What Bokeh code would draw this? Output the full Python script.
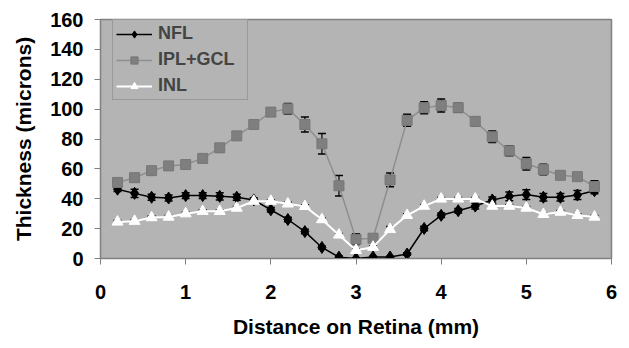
from bokeh.plotting import figure
from bokeh.models import ColumnDataSource, Whisker, TeeHead, Range1d, FixedTicker, Legend
from bokeh.embed import file_html
from bokeh.resources import INLINE

x = [0.2, 0.4, 0.6, 0.8, 1.0, 1.2, 1.4, 1.6, 1.8, 2.0, 2.2, 2.4, 2.6, 2.8, 3.0,
     3.2, 3.4, 3.6, 3.8, 4.0, 4.2, 4.4, 4.6, 4.8, 5.0, 5.2, 5.4, 5.6, 5.8]

nfl = [46.4, 43.6, 41.0, 40.5, 42.1, 42.1, 41.6, 41.0, 39.2, 32.6, 26.1, 18.0, 7.4, 0.9, 0.0,
       1.0, 1.0, 3.0, 20.1, 28.9, 32.0, 35.1, 39.2, 41.6, 42.8, 41.0, 41.0, 42.5, 45.4]
nfl_err = [1.6, 2.7, 2.0, 2.0, 2.0, 2.0, 2.5, 2.0, 1.5, 1.5, 1.5, 1.5, 1.0, 0.8, 0.5,
           0.5, 0.5, 0.8, 1.5, 1.5, 1.5, 2.0, 2.0, 3.0, 3.3, 2.5, 2.5, 3.0, 2.0]

ipl = [50.9, 54.1, 58.8, 62.0, 62.9, 67.0, 74.1, 82.1, 89.7, 98.0, 100.2, 89.7, 76.8, 48.7, 12.9,
       13.6, 52.6, 92.5, 100.9, 102.4, 100.9, 91.8, 81.5, 72.1, 63.4, 59.6, 55.7, 54.8, 48.2]
ipl_err = [2.0, 2.0, 2.5, 2.0, 2.0, 2.5, 2.5, 2.5, 2.0, 2.0, 3.5, 5.0, 6.8, 6.8, 3.6,
           2.5, 4.6, 4.0, 4.0, 4.4, 3.0, 3.0, 3.8, 3.3, 4.2, 3.5, 2.0, 2.0, 3.8]

inl = [24.5, 25.0, 27.4, 27.8, 30.0, 31.6, 31.6, 33.8, 38.4, 38.4, 36.6, 34.9, 26.1, 15.8, 5.5,
       7.6, 19.5, 28.9, 35.1, 39.9, 39.9, 39.9, 35.1, 35.1, 33.8, 29.6, 31.1, 28.9, 27.8]
inl_err = [1.0, 1.0, 1.0, 1.0, 1.0, 1.0, 1.0, 1.0, 1.0, 1.0, 1.0, 1.0, 1.0, 1.0, 1.0,
           1.0, 2.0, 1.0, 1.0, 1.0, 1.0, 1.0, 1.0, 1.0, 1.0, 1.0, 1.0, 1.0, 1.0]

x_ticks = [0, 1, 2, 3, 4, 5, 6]
y_ticks = [0, 20, 40, 60, 80, 100, 120, 140, 160]

FONT = "Liberation Sans"
BG = "#b4b4b4"
FRAME = "#808080"

p = figure(width=621, height=340, output_backend="svg", toolbar_location=None,
           x_range=Range1d(0, 6), y_range=Range1d(0, 160),
           min_border_left=100, min_border_right=10, min_border_top=19, min_border_bottom=78)

p.background_fill_color = BG
p.border_fill_color = "white"
p.outline_line_color = FRAME
p.outline_line_width = 1.5
p.grid.visible = False

for ax in (p.xaxis[0], p.yaxis[0]):
    ax.axis_line_color = FRAME
    ax.major_tick_line_color = FRAME
    ax.minor_tick_line_color = None
    ax.major_tick_in = 0
    ax.major_tick_out = 6
    ax.major_label_text_font = FONT
    ax.major_label_text_font_style = "bold"
    ax.major_label_text_font_size = "20px"
    ax.major_label_text_color = "black"
    ax.axis_label_text_font = FONT
    ax.axis_label_text_font_style = "bold"
    ax.axis_label_text_font_size = "21px"
    ax.axis_label_text_color = "black"

p.xaxis.ticker = FixedTicker(ticks=x_ticks)
p.yaxis.ticker = FixedTicker(ticks=y_ticks)
p.xaxis.axis_label = "Distance on Retina (mm)"
p.yaxis.axis_label = "Thickness (microns)"
p.xaxis.major_label_standoff = 20
p.yaxis.major_label_standoff = 11
p.xaxis.axis_label_standoff = 13
p.yaxis.axis_label_standoff = 12

def add_series(vals, errs, line_color, line_width, marker, fill, mline, msize):
    lo = [v - e for v, e in zip(vals, errs)]
    hi = [v + e for v, e in zip(vals, errs)]
    src = ColumnDataSource(dict(x=x, y=vals, lo=lo, hi=hi))
    r1 = p.line("x", "y", source=src, line_color=line_color, line_width=line_width)
    w = Whisker(base="x", lower="lo", upper="hi", source=src, line_color="black", line_width=1.2,
                upper_head=TeeHead(size=8, line_color="black", line_width=1.5),
                lower_head=TeeHead(size=8, line_color="black", line_width=1.5))
    p.add_layout(w)
    r2 = p.scatter("x", "y", source=src, marker=marker, size=msize, fill_color=fill,
                   line_color=mline, line_width=1)
    return [r1, r2]

r_nfl = add_series(nfl, nfl_err, "black", 1.5, "diamond", "black", "black", 12)
r_ipl = add_series(ipl, ipl_err, "#8e8e8e", 1.5, "square", "#7f7f7f", "#777777", 10)
r_inl = add_series(inl, inl_err, "white", 2, "triangle", "white", "white", 11)

legend = Legend(items=[("NFL", r_nfl), ("IPL+GCL", r_ipl), ("INL", r_inl)],
                location=(12, 158), background_fill_color=BG, background_fill_alpha=1,
                border_line_color=FRAME, border_line_width=1.5,
                label_text_font=FONT, label_text_font_style="bold", label_text_font_size="18px",
                label_text_line_height=1.0, label_width=86,
                label_height=18, glyph_height=18, glyph_width=36, label_standoff=6,
                spacing=5, padding=3, margin=0)
p.add_layout(legend)

open("out.html", "w").write(file_html(p, INLINE))
